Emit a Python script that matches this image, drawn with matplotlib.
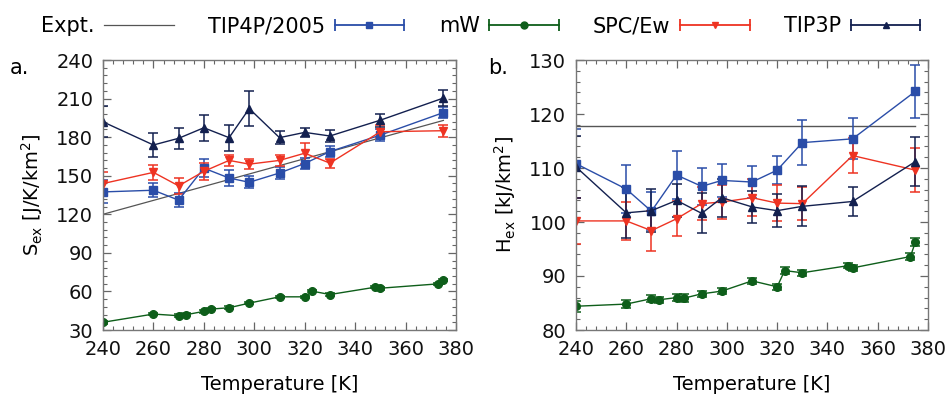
import matplotlib
matplotlib.use("Agg")
import matplotlib.pyplot as plt
from matplotlib.lines import Line2D
from matplotlib.legend_handler import HandlerBase
from matplotlib.ticker import MultipleLocator, AutoMinorLocator

plt.rcParams['font.family'] = 'DejaVu Sans'
plt.rcParams['mathtext.default'] = 'regular'

# --- data ---
T = [240, 260, 270, 280, 290, 298, 310, 320, 330, 350, 375]
T_mw = [240, 260, 270, 273, 280, 283, 290, 298, 310, 320, 323, 330, 348, 350, 373, 375]
T_expt = [240, 375]

# panel a: excess entropy S_ex [J/K/km^2]
S_expt = [120, 193]
S_tip4p = [137.4, 138.7, 131.0, 155.9, 148.2, 144.9, 152.1, 159.5, 168.8, 181.6, 199.1]
S_tip4p_err = [9, 5.5, 5.7, 7, 6, 4.5, 4.5, 4.5, 4.5, 4.4, 4]
S_spce = [143.9, 152.6, 142.1, 153.4, 161.9, 159.0, 161.9, 167.5, 159.8, 184.2, 185.0]
S_spce_err = [9, 6, 6.5, 6.5, 4, 4, 4, 8, 3.5, 5, 4.6]
S_tip3p = [191.9, 173.9, 179.1, 187.3, 179.6, 202.2, 179.6, 183.7, 180.9, 193.2, 210.4]
S_tip3p_err = [12, 9, 8, 10, 10, 13.5, 5, 3.6, 4.4, 5, 6]
S_mw = [36.0, 42.4, 41.1, 41.9, 44.5, 46.3, 47.3, 50.9, 55.8, 55.8, 60.2, 57.6, 63.3, 62.5, 65.9, 69.0]
S_mw_err = [1.0] * 16

# panel b: excess enthalpy H_ex [kJ/km^2]
H_expt = [117.8, 117.8]
H_tip4p = [110.8, 106.1, 102.0, 108.7, 106.6, 107.7, 107.4, 109.6, 114.7, 115.4, 124.2]
H_tip4p_err = [6.4, 4.5, 3.5, 4.5, 3.4, 3.0, 3.0, 2.6, 4.1, 3.8, 4.9]
H_spce = [100.2, 100.2, 98.4, 100.6, 103.4, 103.7, 104.5, 103.5, 103.4, 112.3, 109.6]
H_spce_err = [4.3, 3.5, 3.7, 3.2, 3.0, 3.2, 3.4, 3.4, 3.0, 3.2, 4.1]
H_tip3p = [110.2, 101.7, 102.1, 104.0, 101.6, 104.5, 102.8, 102.1, 102.9, 103.8, 111.2]
H_tip3p_err = [5.7, 4.7, 4.0, 3.0, 3.7, 3.5, 3.0, 3.0, 3.7, 2.6, 4.6]
H_mw = [84.4, 84.8, 85.8, 85.6, 86.0, 85.9, 86.7, 87.2, 89.1, 88.0, 91.0, 90.6, 91.9, 91.5, 93.6, 96.3]
H_mw_err = [1.0, 0.8, 0.6, 0.6, 0.6, 0.7, 0.6, 0.6, 0.5, 0.6, 0.6, 0.6, 0.5, 0.6, 0.6, 0.8]

C_EXPT = '#555555'
C_TIP4P = '#2a4da8'
C_MW = '#0e5e1a'
C_SPCE = '#ee3322'
C_TIP3P = '#13204f'

series = [
    ('TIP4P/2005', C_TIP4P, 's', 5.0),
    ('mW', C_MW, 'o', 5.0),
    ('SPC/Ew', C_SPCE, 'v', 5.0),
    ('TIP3P', C_TIP3P, '^', 5.0),
]


class HandlerBar(HandlerBase):
    # gnuplot-like key: line with caps at both ends and the marker in the middle
    def create_artists(self, legend, orig_handle, xdescent, ydescent,
                       width, height, fontsize, trans):
        c = orig_handle.get_color()
        y = height / 2 - ydescent
        x0, x1 = -xdescent, width - xdescent
        line = Line2D([x0, x1], [y, y], color=c, lw=1.3, transform=trans)
        caps = Line2D([x0, x1], [y, y], ls='none', marker='|', ms=9,
                      mew=1.3, color=c, transform=trans)
        mk = Line2D([(x0 + x1) / 2], [y], ls='none', marker=orig_handle.get_marker(),
                    ms=orig_handle.get_markersize(), color=c, transform=trans)
        return [line, caps, mk]


fig = plt.figure(figsize=(9.48, 3.98), dpi=100)
ax1 = fig.add_axes([103 / 948, 1 - 330 / 398, 353 / 948, 270 / 398])
ax2 = fig.add_axes([576 / 948, 1 - 330 / 398, 352 / 948, 270 / 398])

eb = dict(lw=1.0, elinewidth=1.1, capsize=3.3, capthick=1.1)

ax1.plot(T_expt, S_expt, color=C_EXPT, lw=0.9, zorder=1)
ax1.errorbar(T, S_tip4p, yerr=S_tip4p_err, color=C_TIP4P, marker='s', ms=5.5, **eb)
ax1.errorbar(T_mw, S_mw, yerr=S_mw_err, color=C_MW, marker='o', ms=5.5, **eb)
ax1.errorbar(T, S_spce, yerr=S_spce_err, color=C_SPCE, marker='v', ms=5.5, **eb)
ax1.errorbar(T, S_tip3p, yerr=S_tip3p_err, color=C_TIP3P, marker='^', ms=5.5, **eb)

ax2.plot(T_expt, H_expt, color=C_EXPT, lw=1.0, zorder=1)
ax2.errorbar(T, H_tip4p, yerr=H_tip4p_err, color=C_TIP4P, marker='s', ms=5.5, **eb)
ax2.errorbar(T_mw, H_mw, yerr=H_mw_err, color=C_MW, marker='o', ms=5.5, **eb)
ax2.errorbar(T, H_spce, yerr=H_spce_err, color=C_SPCE, marker='v', ms=5.5, **eb)
ax2.errorbar(T, H_tip3p, yerr=H_tip3p_err, color=C_TIP3P, marker='^', ms=5.5, **eb)

ax1.set_xlim(240, 380)
ax1.set_ylim(30, 240)
ax1.yaxis.set_major_locator(MultipleLocator(30))
ax2.set_xlim(240, 380)
ax2.set_ylim(80, 130)
ax2.yaxis.set_major_locator(MultipleLocator(10))

for ax in (ax1, ax2):
    ax.xaxis.set_major_locator(MultipleLocator(20))
    ax.xaxis.set_minor_locator(AutoMinorLocator(5))
    ax.yaxis.set_minor_locator(AutoMinorLocator(5))
    ax.tick_params(which='both', direction='in', top=True, right=True,
                   color='#666666', labelsize=14, labelcolor='#111111')
    ax.tick_params(which='major', length=6, width=0.9, pad=7)
    ax.tick_params(which='minor', length=3, width=0.8)
    for sp in ax.spines.values():
        sp.set_color('#777777')
        sp.set_linewidth(1.0)
    ax.set_xlabel('Temperature [K]', fontsize=14, labelpad=12)

ax1.set_ylabel('S$_{ex}$ [J/K/km$^2$]', fontsize=14, labelpad=8)
ax2.set_ylabel('H$_{ex}$ [kJ/km$^2$]', fontsize=14, labelpad=8)

fig.text(10 / 948, 1 - 68 / 398, 'a.', fontsize=15, va='center', ha='left')
fig.text(488 / 948, 1 - 68 / 398, 'b.', fontsize=15, va='center', ha='left')

handles = [Line2D([], [], color=C_EXPT, lw=0.9)]
labels = ['Expt.']
for name, c, m, ms in series:
    handles.append(Line2D([], [], color=c, marker=m, ms=ms))
    labels.append(name)
hmap = {h: HandlerBar() for h in handles[1:]}
fig.legend(handles, labels, handler_map=hmap, loc='center left',
           bbox_to_anchor=(41 / 948, 1 - 26 / 398), ncol=5, frameon=False,
           markerfirst=False, fontsize=15, handlelength=3.35, handletextpad=0.45,
           columnspacing=1.65, borderpad=0, borderaxespad=0)

fig.savefig('out.png', dpi=100)
